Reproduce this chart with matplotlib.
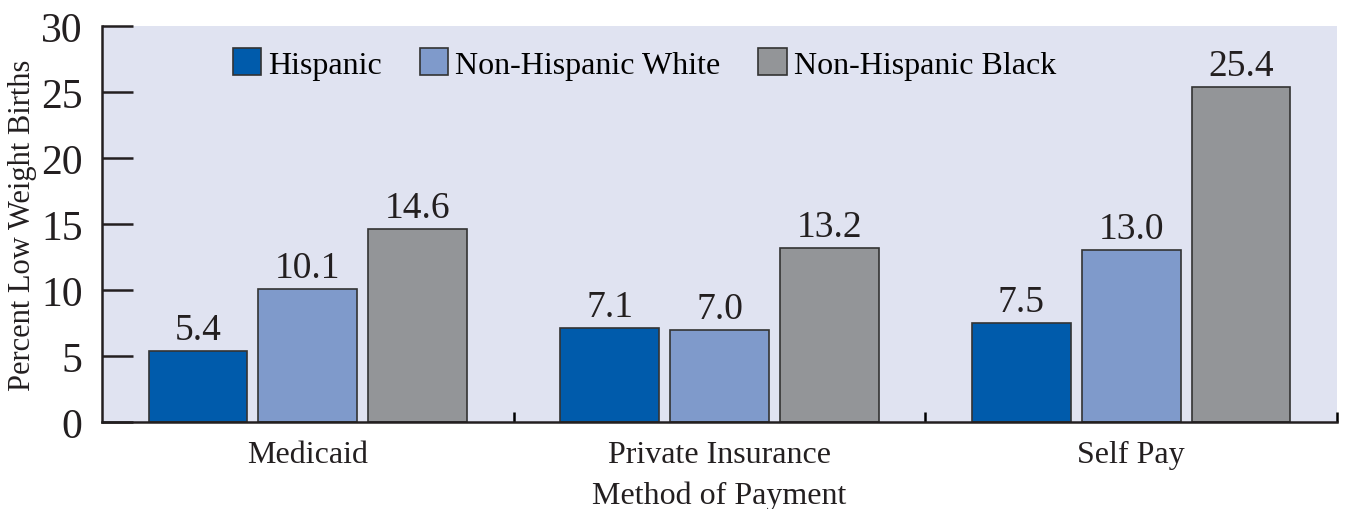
import matplotlib.pyplot as plt
import numpy as np

# data
categories = ['Medicaid', 'Private Insurance', 'Self Pay']
groups = ['Hispanic', 'Non-Hispanic White', 'Non-Hispanic Black']
hispanic = [5.4, 7.1, 7.5]
white = [10.1, 7.0, 13.0]
black = [14.6, 13.2, 25.4]
colors = ['#005bab', '#7f9acb', '#939598']

plt.rcParams['font.family'] = ['Liberation Serif', 'DejaVu Serif']

fig = plt.figure(figsize=(13.46, 5.10), dpi=100)
ax = fig.add_axes([0.0758, 0.1706, 0.9175, 0.7764])
ax.set_facecolor('#e0e3f1')

x = np.arange(len(categories))
w = 0.24
step = 0.267
for i, (vals, name) in enumerate(zip([hispanic, white, black], groups)):
    bars = ax.bar(x + (i - 1) * step, vals, w, color=colors[i],
                  edgecolor='#333333', linewidth=1.2, label=name)
    for b, v in zip(bars, vals):
        ax.text(b.get_x() + b.get_width() / 2, v + 0.3, f'{v:.1f}',
                ha='center', va='bottom', fontsize=27, color='#231f20')

ax.set_xlim(-0.5, 2.5)
ax.set_ylim(0, 30)
ax.set_yticks(range(0, 31, 5))
ax.tick_params(axis='y', direction='in', length=22, width=1.8,
               labelsize=30, pad=14, colors='#231f20')
ax.set_xticks([0.5, 1.5, 2.5])
ax.set_xticklabels([])
ax.tick_params(axis='x', direction='in', length=7, width=1.8)
ax.set_xticks(x, minor=True)
ax.set_xticklabels(categories, minor=True, fontsize=23, color='#231f20')
ax.tick_params(axis='x', which='minor', length=0, pad=13)

for s in ['top', 'right']:
    ax.spines[s].set_visible(False)
for s in ['left', 'bottom']:
    ax.spines[s].set_linewidth(1.8)
    ax.spines[s].set_color('#231f20')

ax.set_ylabel('Percent Low Weight Births', fontsize=22, color='#231f20')
ax.yaxis.set_label_coords(-0.053, 0.5)
ax.set_xlabel('Method of Payment', fontsize=23, color='#231f20')
ax.xaxis.set_label_coords(0.5, -0.148)

ax.legend(loc='upper center', bbox_to_anchor=(0.439, 1.0), ncol=3, frameon=False,
          fontsize=23, handlelength=0.9, handleheight=0.9, handletextpad=0.2,
          columnspacing=1.2, borderaxespad=0.3)

fig.savefig('out.png', dpi=100)
